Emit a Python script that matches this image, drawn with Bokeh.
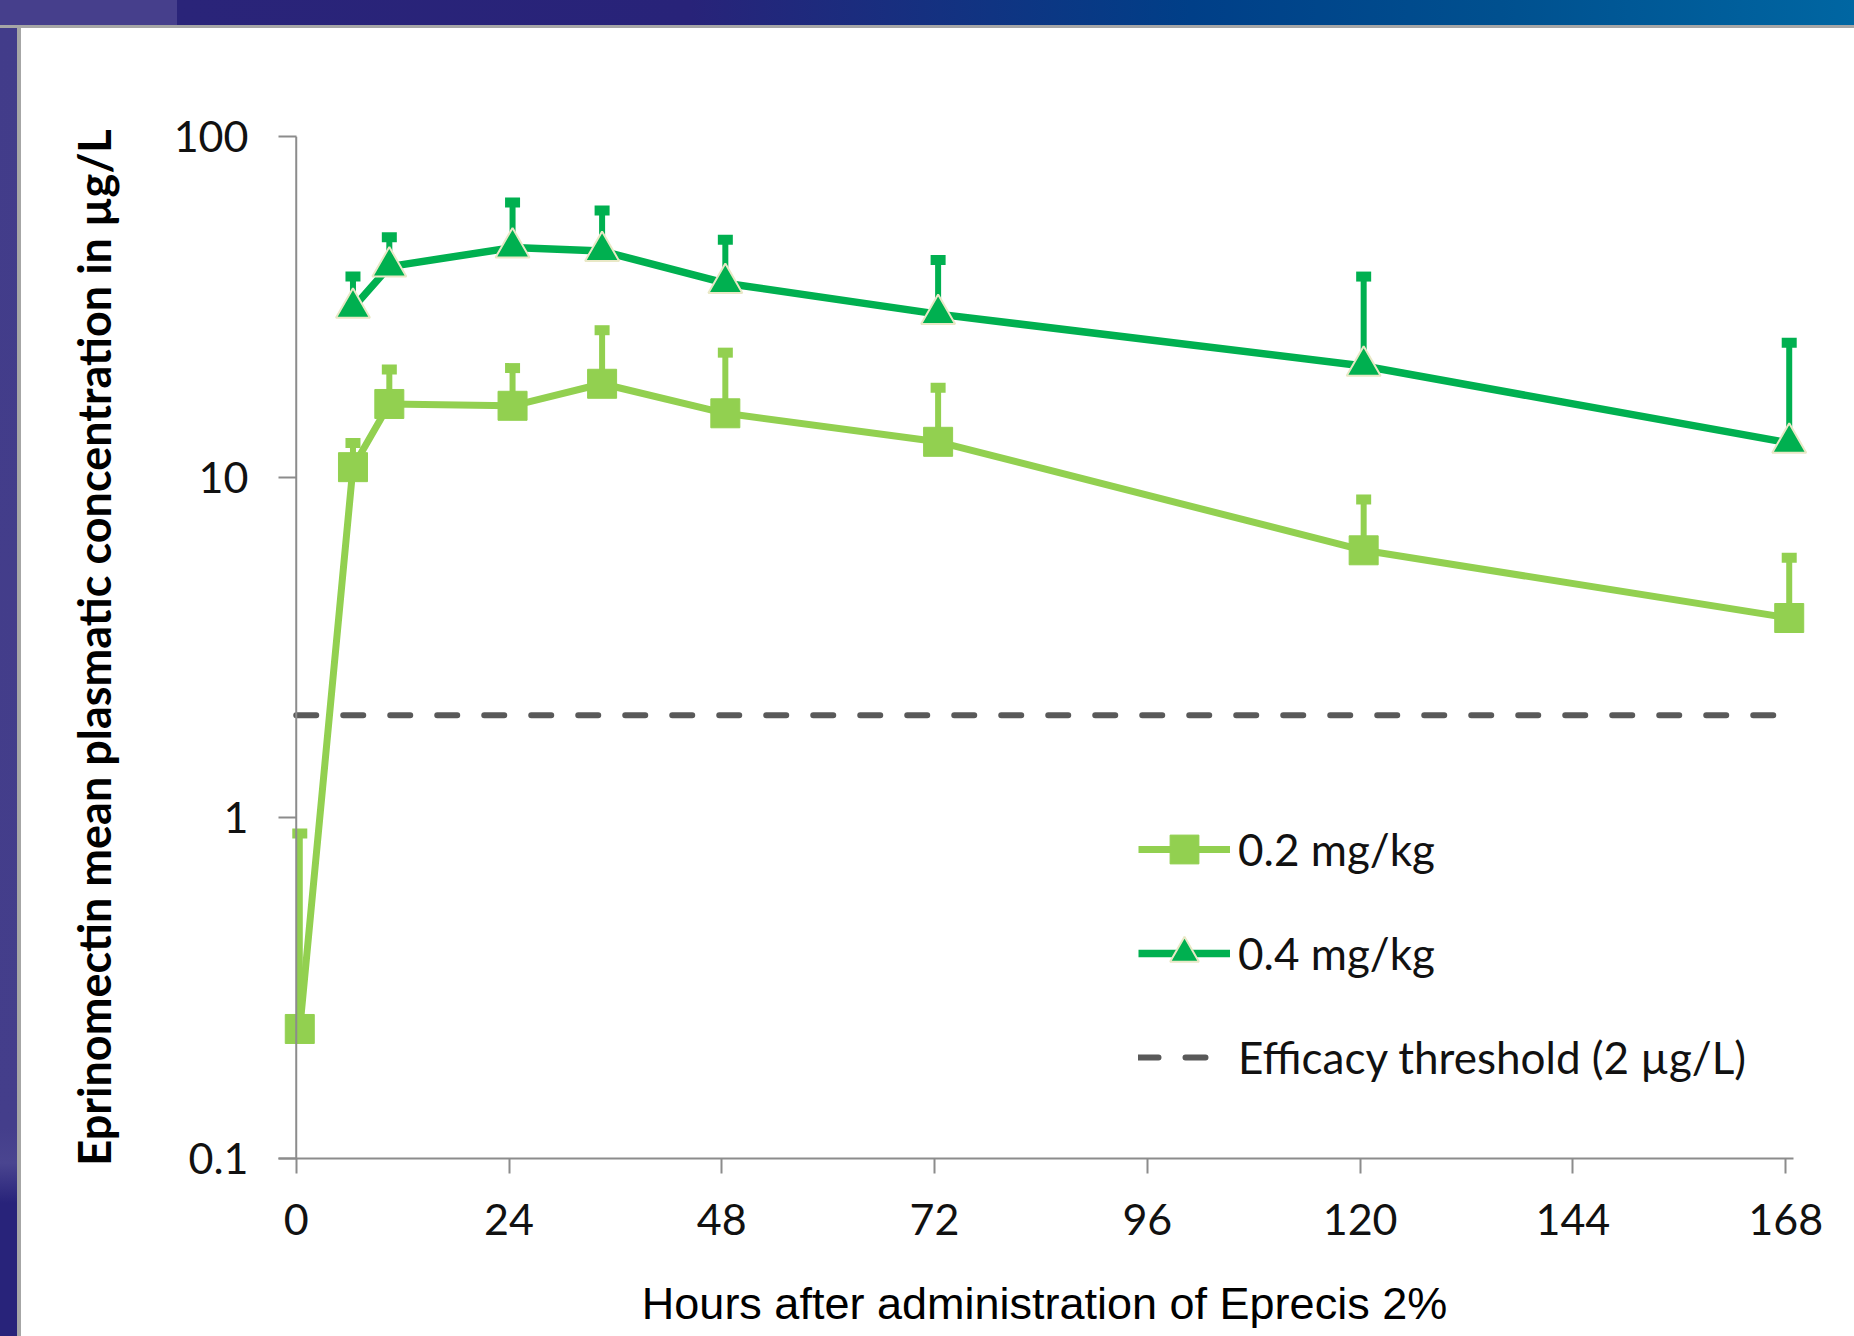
from bokeh.plotting import figure
from bokeh.layouts import column, row
from bokeh.models import FixedTicker, Span, Legend, LegendItem, Range1d, Div
from bokeh.embed import file_html
from bokeh.resources import INLINE

# ---------------- data ----------------
hours_02 = [0.4, 6.4, 10.5, 24.4, 34.5, 48.4, 72.4, 120.4, 168.4]
conc_02 = [0.24, 10.7, 16.4, 16.2, 18.8, 15.4, 12.7, 6.1, 3.86]
upper_02 = [0.90, 12.6, 20.7, 20.9, 27.0, 23.2, 18.3, 8.6, 5.8]

hours_04 = [6.4, 10.5, 24.4, 34.5, 48.4, 72.4, 120.4, 168.4]
conc_04 = [31.4, 41.5, 47.2, 46.1, 37.1, 30.1, 21.2, 12.6]
upper_04 = [38.8, 50.6, 64.0, 60.6, 49.8, 43.4, 38.8, 24.8]

threshold = 2.0
threshold_span = [0, 168.9]

x_ticks = [0, 24, 48, 72, 96, 120, 144, 168]
y_ticks = [0.1, 1, 10, 100]
y_tick_labels = ["0.1", "1", "10", "100"]

series_labels = ["0.2 mg/kg", "0.4 mg/kg", "Efficacy threshold (2 \u00b5g/L)"]

# ---------------- styles ----------------
C02 = "#92d050"
C04 = "#00b050"
CTHR = "#595959"
AXIS = "#8c8c8c"
PAGE_W, PAGE_H = 1854, 1336
TOP_H, LEFT_W = 28, 21
MAIN_W, MAIN_H = PAGE_W - LEFT_W, PAGE_H - TOP_H

# ----- top bar (slide frame) -----
top_bg = ("linear-gradient(to bottom, rgba(0,0,0,0) 25px, #a6a6a6 25px), "
          "linear-gradient(to right, #463f8c 0px, #463f8c 177px, #2a2479 177px, "
          "#282379 690px, #003f88 1190px, #00508f 1500px, #0066a2 100%)")
top = Div(text="", width=PAGE_W, height=TOP_H,
          styles={"background": top_bg, "margin": "0", "padding": "0"})

# ----- left strip -----
left_bg = ("linear-gradient(to right, rgba(0,0,0,0) 17.5px, #a6a6a6 17.5px), "
           "linear-gradient(to bottom, #423c8a 0px, #443e8b 1100px, #4a4590 1135px, "
           "#28237a 1175px, #28237a 100%)")
left = Div(text="", width=LEFT_W, height=MAIN_H,
           styles={"background": left_bg, "margin": "0", "padding": "0"})

# ----- main chart -----
p = figure(width=MAIN_W, height=MAIN_H, y_axis_type="log",
           x_range=Range1d(-2.0, 170.8), y_range=Range1d(0.1, 100),
           output_backend="svg", toolbar_location=None,
           min_border_left=278 - LEFT_W, min_border_right=PAGE_W - 1810,
           min_border_top=136 - TOP_H, min_border_bottom=PAGE_H - 1158)
p.outline_line_color = None
p.xgrid.visible = False
p.ygrid.visible = False
p.background_fill_color = "white"
p.border_fill_color = "white"

xa = p.xaxis[0]
xa.ticker = FixedTicker(ticks=x_ticks)
xa.bounds = (-2.0, 168.9)
xa.axis_line_color = AXIS
xa.axis_line_width = 2
xa.major_tick_line_color = AXIS
xa.major_tick_line_width = 2
xa.major_tick_in = 0
xa.major_tick_out = 15
xa.minor_tick_line_color = None
xa.major_label_text_font = "Lato"
xa.major_label_text_font_size = "43px"
xa.major_label_text_color = "#111111"
xa.major_label_standoff = 30
xa.axis_label = "Hours after administration of Eprecis 2%"
xa.axis_label_text_font = "Liberation Sans"
xa.axis_label_text_font_size = "45px"
xa.axis_label_text_font_style = "normal"
xa.axis_label_text_color = "#000000"
xa.axis_label_standoff = 40

ya = p.yaxis[0]
ya.ticker = FixedTicker(ticks=y_ticks)
ya.major_label_overrides = dict(zip(y_ticks, y_tick_labels))
ya.axis_line_color = None
ya.major_tick_line_color = AXIS
ya.major_tick_line_width = 2
ya.major_tick_in = 18
ya.major_tick_out = 0
ya.minor_tick_line_color = None
ya.major_label_text_font = "Lato"
ya.major_label_text_font_size = "43px"
ya.major_label_text_color = "#111111"
ya.major_label_standoff = 30
ya.axis_label = "Eprinomectin mean plasmatic concentration in \u00b5g/L"
ya.axis_label_text_font = "Lato"
ya.axis_label_text_font_size = "45px"
ya.axis_label_text_font_style = "bold"
ya.axis_label_text_color = "#000000"
ya.axis_label_standoff = 50

# y axis line at x = 0
p.add_layout(Span(location=0, dimension="height", line_color=AXIS, line_width=2))

# threshold
thr = p.line(threshold_span, [threshold, threshold], line_color=CTHR, line_width=6,
             line_dash="20 27", line_cap="round")

# 0.2 mg/kg
l02 = p.line(hours_02, conc_02, line_color=C02, line_width=7)
p.segment(x0=hours_02, y0=conc_02, x1=hours_02, y1=upper_02, line_color=C02, line_width=6)
p.rect(x=hours_02, y=upper_02, width=15, height=10, width_units="screen",
       height_units="screen", fill_color=C02, line_color=None)
m02 = p.scatter(hours_02, conc_02, marker="square", size=29, fill_color=C02, line_color=C02,
                line_width=1)

# 0.4 mg/kg
l04 = p.line(hours_04, conc_04, line_color=C04, line_width=7.5)
p.segment(x0=hours_04, y0=conc_04, x1=hours_04, y1=upper_04, line_color=C04, line_width=6)
p.rect(x=hours_04, y=upper_04, width=15, height=10, width_units="screen",
       height_units="screen", fill_color=C04, line_color=None)
m04 = p.scatter(hours_04, conc_04, marker="triangle", size=34, fill_color=C04,
                line_color="#e9e8c6", line_width=2)

legend = Legend(items=[LegendItem(label=series_labels[0], renderers=[l02, m02]),
                       LegendItem(label=series_labels[1], renderers=[l04, m04]),
                       LegendItem(label=series_labels[2], renderers=[thr])],
                location=(860, 65), orientation="vertical",
                glyph_width=92, glyph_height=72, spacing=32, label_standoff=8,
                padding=0, margin=0, border_line_color=None, background_fill_alpha=0,
                label_text_font="Lato", label_text_font_size="44px",
                label_text_color="#111111")
p.add_layout(legend)

page = column(top, row(left, p, spacing=0), spacing=0)
open("out.html", "w").write(file_html(page, INLINE))
